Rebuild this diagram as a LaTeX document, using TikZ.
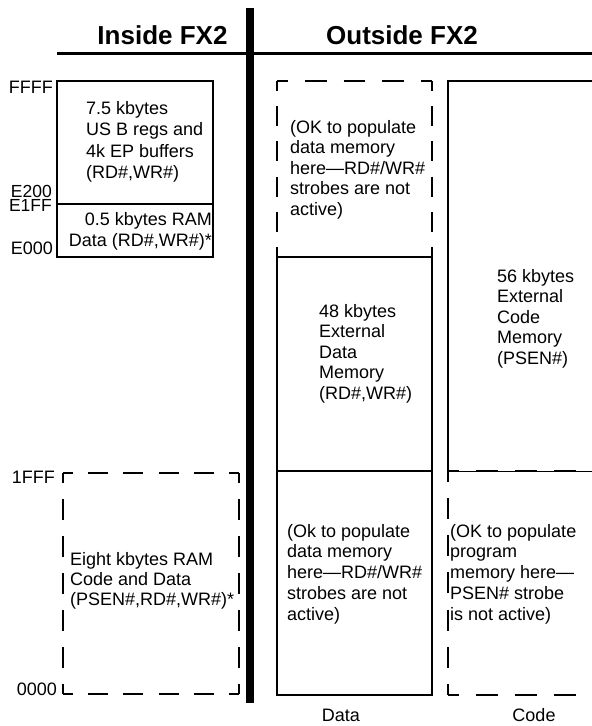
\documentclass[tikz,border=0pt]{standalone}
\usepackage{fontspec}
\setmainfont{Liberation Sans}
\newcommand\mlL[1]{\begin{tabular}[t]{@{}l@{}}#1\end{tabular}}
\newcommand\mlR[1]{\begin{tabular}[t]{@{}r@{}}#1\end{tabular}}
\begin{document}
\begin{tikzpicture}[x=1pt,y=-1pt,
  sbox/.style={line width=2.2pt},
  dsh/.style={line width=2.2pt, line cap=butt},
  txt/.style={font=\fontsize{18}{20.5}\selectfont, inner sep=0pt, anchor=base west},
  addr/.style={font=\fontsize{18}{20}\selectfont, inner sep=0pt, anchor=base east},
  hdr/.style={font=\fontsize{26}{30}\selectfont\bfseries, inner sep=0pt, anchor=base}]
\useasboundingbox (0,0) rectangle (592,726);

% headers
\node[hdr] (hin) at (162.5,44) {Inside FX2};
\node[hdr] (hout) at (402,44) {Outside FX2};
\draw[line width=2.7pt] (57,53.5) -- (592,53.5);
\fill (246,8) rectangle (254,703);

% inside FX2 upper boxes
\draw[sbox] (57,81) rectangle (213,257);
\draw[sbox] (57,204) -- (213,204);

% inside FX2 lower dashed box (63,473)-(239,694)
\draw[dsh, dash pattern=on 19.86pt off 15.34pt, dash phase=9.93pt] (63,473) -- (239,473);
\draw[dsh, dash pattern=on 19.86pt off 15.34pt, dash phase=9.93pt] (63,694) -- (239,694);
\draw[dsh, dash pattern=on 20.78pt off 16.06pt, dash phase=10.39pt] (63,473) -- (63,694);
\draw[dsh, dash pattern=on 20.78pt off 16.06pt, dash phase=10.39pt] (239,473) -- (239,694);

% data column
\draw[dsh, dash pattern=on 21.86pt off 16.89pt, dash phase=10.93pt] (277,81) -- (432,81);
\draw[dsh, dash pattern=on 19.86pt off 15.34pt, dash phase=9.93pt] (277,81) -- (277,257);
\draw[dsh, dash pattern=on 19.86pt off 15.34pt, dash phase=9.93pt] (432,81) -- (432,257);
\draw[sbox] (277,257) rectangle (432,695);
\draw[sbox] (277,471) -- (432,471);

% code column
\draw[sbox] (448,471) -- (448,81) -- (600,81);
\draw[line width=0.7pt] (448,471) -- (600,471);
\draw[dsh, dash pattern=on 22pt off 17pt, dash phase=11pt] (448,471) -- (600,471);
\draw[dsh, dash pattern=on 22pt off 17pt, dash phase=11pt] (448,695) -- (600,695);
\draw[dsh, dash pattern=on 21.05pt off 16.27pt, dash phase=10.53pt] (448,471) -- (448,695);

% address labels
\node[addr] (aFFFF) at (53,93) {FFFF};
\node[addr, font=\fontsize{17.5}{20}\selectfont] (aE200) at (52,197) {E200};
\node[addr, font=\fontsize{17.5}{20}\selectfont] (aE1FF) at (52,211) {E1FF};
\node[addr] (aE000) at (53,254) {E000};
\node[addr] (a1FFF) at (55,483) {1FFF};
\node[addr] (a0000) at (57,695) {0000};

% texts
\node[txt, font=\fontsize{18}{21.5}\selectfont] (t1) at (86,114) {\mlL{7.5 kbytes\\US B regs and\\4k EP buffers\\(RD\#,WR\#)}};
\node[txt, font=\fontsize{18}{21}\selectfont, anchor=base east] (t2) at (212,225) {\mlR{0.5 kbytes RAM\\Data (RD\#,WR\#)*}};
\node[txt, font=\fontsize{18}{20.3}\selectfont] (t3) at (70,565) {\mlL{Eight kbytes RAM\\Code and Data\\(PSEN\#,RD\#,WR\#)*}};
\node[txt] (t4) at (290,133) {\mlL{(OK to populate\\data memory\\here—RD\#/WR\#\\strobes are not\\active)}};
\node[txt] (t5) at (319,317) {\mlL{48 kbytes\\External\\Data\\Memory\\(RD\#,WR\#)}};
\node[txt] (t6) at (497,282) {\mlL{56 kbytes\\External\\Code\\Memory\\(PSEN\#)}};
\node[txt, font=\fontsize{18}{20.8}\selectfont] (t7) at (287,537) {\mlL{(Ok to populate\\data memory\\here—RD\#/WR\#\\strobes are not\\active)}};
\node[txt, font=\fontsize{18}{20.8}\selectfont] (t8) at (450,537) {\mlL{(OK to populate\\program\\memory here—\\PSEN\# strobe\\is not active)}};
\node[addr, anchor=base] (ldata) at (341,721) {Data};
\node[addr, anchor=base] (lcode) at (534,721) {Code};
\end{tikzpicture}
\end{document}
